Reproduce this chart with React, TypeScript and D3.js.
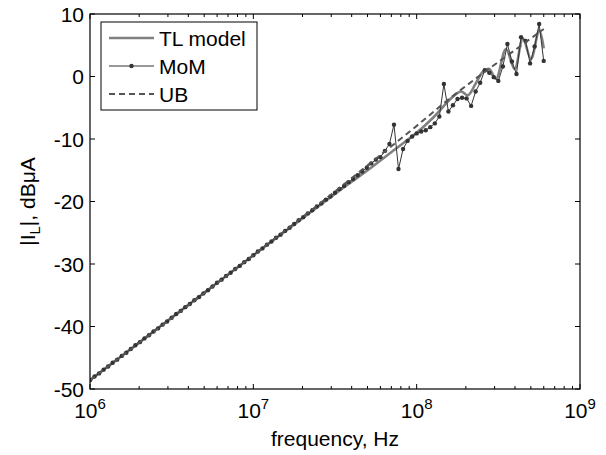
import React from "react";
import * as d3 from "d3";

// MoM samples: log-spaced grid, 36 points per decade starting at 1 MHz
const momStepsPerDecade = 36;
const momValues = [
  -48.6, -48.0, -47.5, -46.9, -46.4, -45.8, -45.3, -44.7, -44.2, -43.6,
  -43.0, -42.5, -41.9, -41.4, -40.8, -40.3, -39.7, -39.2, -38.6, -38.0,
  -37.5, -36.9, -36.4, -35.8, -35.3, -34.7, -34.2, -33.6, -33.0, -32.5,
  -31.9, -31.4, -30.8, -30.3, -29.7, -29.2, -28.6, -28.0, -27.5, -26.9,
  -26.4, -25.8, -25.3, -24.7, -24.2, -23.6, -23.0, -22.5, -21.9, -21.4,
  -20.8, -20.3, -19.7, -19.2, -18.6, -18.0, -17.5, -16.9, -16.4, -15.8,
  -15.2, -14.6, -13.9, -13.3, -12.9, -11.9, -10.8, -7.7, -14.8, -11.6,
  -10.3, -9.6, -9.1, -8.8, -8.6, -8.1, -7.5, -6.4, -1.2, -5.6,
  -4.6, -3.6, -3.4, -3.5, -4.7, -2.4, -1.0, 1.0, 0.6, -0.1,
  -0.7, 1.6, 5.2, 2.4, 0.4, 6.3, 5.7, 2.1, 4.8, 8.4,
  2.5,
];
const momFreq = momValues.map((_, i) => Math.pow(10, 6 + i / momStepsPerDecade));

// TL model
const tlFreq = [
  1e6, 1e7, 3.16e7, 5.01e7, 7.08e7, 1e8, 1.26e8, 1.67e8, 1.87e8, 2.06e8,
  2.29e8, 2.55e8, 2.78e8, 3.06e8, 3.52e8, 3.98e8, 4.47e8, 5.01e8, 5.62e8, 6.0e8,
];
const tlValues = [
  -48.6, -28.6, -18.8, -15.0, -12.0, -9.0, -6.6, -3.2, -2.4, -3.0,
  -1.2, 0.8, 1.2, -0.4, 4.4, 1.2, 6.1, 2.8, 7.4, 4.5,
];

// UB
const ubFreq = [1e6, 1e7, 3.16e7, 6.31e7, 1e8, 1.58e8, 2.51e8, 3.98e8, 6.0e8];
const ubValues = [-48.6, -28.6, -18.4, -12.1, -7.9, -3.6, 0.4, 4.2, 7.6];

const xMajor = [1e6, 1e7, 1e8, 1e9];
const xMajorExp = ["6", "7", "8", "9"];
const yTicks = [-50, -40, -30, -20, -10, 0, 10];
const legendLabels = ["TL model", "MoM", "UB"];

const W = 606;
const H = 455;
const FONT = "'Liberation Sans', Arial, sans-serif";
const FS = 21;

export default function App() {
  const x = d3.scaleLog().domain([1e6, 1e9]).range([90, 580]);
  const y = d3.scaleLinear().domain([-50, 10]).range([389, 14]);
  const [x0, x1] = x.range();
  const [y0, y1] = [y(10), y(-50)];

  const minor: number[] = [];
  for (let d = 0; d < 3; d++) {
    for (let k = 2; k <= 9; k++) minor.push(k * xMajor[d]);
  }

  const tlLine = d3
    .line<number>()
    .x((_, i) => x(tlFreq[i]))
    .y((v) => y(v))
    .curve(d3.curveCatmullRom.alpha(0.5));
  const momLine = d3
    .line<number>()
    .x((_, i) => x(momFreq[i]))
    .y((v) => y(v));
  const ubLine = d3
    .line<number>()
    .x((_, i) => x(ubFreq[i]))
    .y((v) => y(v))
    .curve(d3.curveMonotoneX);

  const majLen = 5;
  const minLen = 3;

  const tlColor = "#808080";
  const momColor = "#333333";
  const ubColor = "#555555";

  const legX = 101;
  const legY = 22;
  const rows = [38, 66, 94];

  return (
    <svg width={W} height={H} style={{ display: "block", position: "absolute", left: 0, top: 0, background: "#fff" }}>
      <rect x={0} y={0} width={W} height={H} fill="#fff" />
      <defs>
        <clipPath id="plotclip">
          <rect x={x0} y={y0} width={x1 - x0} height={y1 - y0} />
        </clipPath>
      </defs>
      <g clipPath="url(#plotclip)">
        <path d={tlLine(tlValues) || ""} fill="none" stroke={tlColor} strokeWidth={2.6} />
        <path d={momLine(momValues) || ""} fill="none" stroke={momColor} strokeWidth={1} />
        {momValues.map((v, i) => (
          <circle key={i} cx={x(momFreq[i])} cy={y(v)} r={2.2} fill={momColor} />
        ))}
        <path d={ubLine(ubValues) || ""} fill="none" stroke={ubColor} strokeWidth={2} strokeDasharray="6,4" />
      </g>
      {/* frame */}
      <rect x={x0} y={y0} width={x1 - x0} height={y1 - y0} fill="none" stroke="#000" strokeWidth={1.2} />
      {/* x ticks */}
      {xMajor.map((t) => (
        <g key={"M" + t}>
          <line x1={x(t)} x2={x(t)} y1={y1} y2={y1 - majLen} stroke="#000" />
          <line x1={x(t)} x2={x(t)} y1={y0} y2={y0 + majLen} stroke="#000" />
        </g>
      ))}
      {minor.map((t) => (
        <g key={"m" + t}>
          <line x1={x(t)} x2={x(t)} y1={y1} y2={y1 - minLen} stroke="#000" />
          <line x1={x(t)} x2={x(t)} y1={y0} y2={y0 + minLen} stroke="#000" />
        </g>
      ))}
      {yTicks.map((t) => (
        <g key={"y" + t}>
          <line x1={x0} x2={x0 + majLen} y1={y(t)} y2={y(t)} stroke="#000" />
          <line x1={x1} x2={x1 - majLen} y1={y(t)} y2={y(t)} stroke="#000" />
          <text x={x0 - 6} y={y(t)} textAnchor="end" dominantBaseline="central" fontFamily={FONT} fontSize={FS}>
            {t}
          </text>
        </g>
      ))}
      {xMajor.map((t, i) => (
        <text key={"xl" + t} x={x(t)} y={418} textAnchor="middle" fontFamily={FONT} fontSize={FS}>
          10
          <tspan dy={-9} fontSize={15}>
            {xMajorExp[i]}
          </tspan>
        </text>
      ))}
      <text x={(x0 + x1) / 2} y={446} textAnchor="middle" fontFamily={FONT} fontSize={FS}>
        frequency, Hz
      </text>
      <text
        transform={`translate(35, ${(y0 + y1) / 2}) rotate(-90)`}
        textAnchor="middle"
        fontFamily={FONT}
        fontSize={FS}
      >
        |I
        <tspan dy={5} fontSize={15}>L</tspan>
        <tspan dy={-5}>|, dBμA</tspan>
      </text>
      {/* legend */}
      <rect x={legX} y={legY} width={156} height={88} fill="#fff" stroke="#000" strokeWidth={1} />
      <line x1={109} x2={154} y1={rows[0]} y2={rows[0]} stroke={tlColor} strokeWidth={2.6} />
      <line x1={109} x2={154} y1={rows[1]} y2={rows[1]} stroke={momColor} strokeWidth={1} />
      <circle cx={131.5} cy={rows[1]} r={2.2} fill={momColor} />
      <line x1={109} x2={154} y1={rows[2]} y2={rows[2]} stroke={ubColor} strokeWidth={2} strokeDasharray="6,4" />
      {legendLabels.map((l, i) => (
        <text key={l} x={159} y={rows[i]} dominantBaseline="central" fontFamily={FONT} fontSize={FS}>
          {l}
        </text>
      ))}
    </svg>
  );
}
